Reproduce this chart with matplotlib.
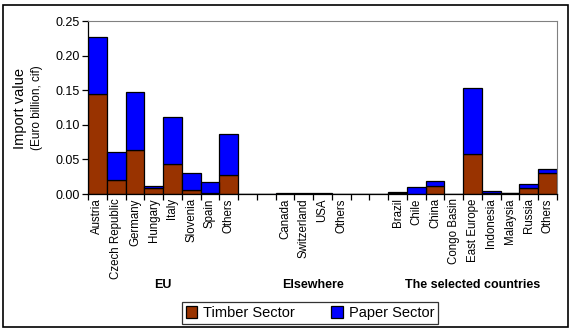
import matplotlib.pyplot as plt
from matplotlib.patches import Rectangle
import numpy as np

plt.rcParams['font.family'] = ['Liberation Sans', 'DejaVu Sans']

# categories (empty strings are the gaps between groups)
categories = ["Austria", "Czech Republic", "Germany", "Hungary", "Italy", "Slovenia", "Spain", "Others",
              "", "",
              "Canada", "Switzerland", "USA", "Others",
              "", "",
              "Brazil", "Chile", "China", "Congo Basin", "East Europe", "Indonesia", "Malaysia", "Russia", "Others"]
timber = [0.145, 0.020, 0.063, 0.008, 0.043, 0.006, 0.001, 0.027,
          0, 0,
          0.0006, 0.0006, 0.0006, 0,
          0, 0,
          0.001, 0.0005, 0.011, 0, 0.058, 0.001, 0.001, 0.008, 0.031]
paper = [0.082, 0.040, 0.084, 0.003, 0.068, 0.025, 0.017, 0.060,
         0, 0,
         0.0006, 0.0006, 0.0006, 0,
         0, 0,
         0.0015, 0.009, 0.0075, 0, 0.095, 0.003, 0.0005, 0.0065, 0.005]
groups = ["EU", "Elsewhere", "The selected countries"]
group_slots = [(0, 8), (10, 14), (16, 25)]

fig = plt.figure(figsize=(5.77, 3.32), dpi=100)
ax = fig.add_axes([88/577, 1-194/332, (557-88)/577, (194-21)/332])

x = np.arange(len(categories))
ax.bar(x, timber, width=1.0, color='#993300', edgecolor='black', linewidth=0.9, label='Timber Sector')
ax.bar(x, paper, bottom=timber, width=1.0, color='#0000FF', edgecolor='black', linewidth=0.9, label='Paper Sector')

ax.set_xlim(-0.5, len(categories) - 0.5)
ax.set_ylim(0, 0.25)
ax.set_yticks([0, 0.05, 0.10, 0.15, 0.20, 0.25])
ax.set_yticklabels(["%.2f" % v for v in [0, 0.05, 0.10, 0.15, 0.20, 0.25]], fontsize=9)

# ticks between categories, labels at centres
ax.set_xticks(np.arange(len(categories) + 1) - 0.5)
ax.set_xticklabels([])
ax.set_xticks(x, minor=True)
ax.set_xticklabels(categories, minor=True, rotation=90, fontsize=8.3)
ax.tick_params(axis='x', which='minor', length=0, pad=3)
ax.tick_params(axis='x', which='major', direction='out', length=4, width=0.9)
ax.tick_params(axis='y', direction='out', length=4, width=0.9, pad=2)

ax.spines['top'].set_color('#808080')
ax.spines['right'].set_color('#808080')
for s in ['left', 'bottom']:
    ax.spines[s].set_linewidth(0.9)

# y label (two lines with different sizes)
fig.text(20/577, 1-108/332, "Import value", rotation=90, fontsize=10.5, ha='center', va='center')
fig.text(37/577, 1-108/332, "(Euro billion, cif)", rotation=90, fontsize=8.5, ha='center', va='center')

# group labels
for name, (a, b) in zip(groups, group_slots):
    xc = (a + b - 1) / 2.0
    xf = fig.transFigure.inverted().transform(ax.transData.transform((xc, 0)))[0]
    fig.text(xf, 1-285/332, name, fontsize=9, fontweight='bold', ha='center', va='center')

leg = fig.legend(loc='center', bbox_to_anchor=(310/577, 1-313/332), ncol=2, fontsize=10.5,
                 frameon=True, fancybox=False, edgecolor='black', handlelength=0.8, handleheight=0.8,
                 handletextpad=0.4, columnspacing=2.5, borderpad=0.25)
leg.get_frame().set_linewidth(0.9)

# outer border
fig.patches.append(Rectangle((3/577, 5/332), 565/577, 322/332, transform=fig.transFigure,
                             fill=False, edgecolor='black', linewidth=1.2))

plt.savefig("out.png", dpi=100)
